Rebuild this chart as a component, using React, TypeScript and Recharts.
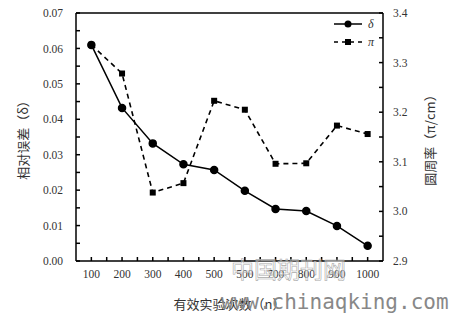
import { LineChart, Line, XAxis, YAxis } from 'recharts'

const trials = [100, 200, 300, 400, 500, 600, 700, 800, 900, 1000]
const xTickLabels = ['100', '200', '300', '400', '500', '500', '700', '800', '900', '1000']
const deltaValues = [0.061, 0.0432, 0.0332, 0.0273, 0.0257, 0.0198, 0.0147, 0.0141, 0.0099, 0.0043]
const piValues = [3.336, 3.278, 3.038, 3.057, 3.223, 3.205, 3.096, 3.097, 3.173, 3.156]

const xTicks = [100, 150, 200, 250, 300, 350, 400, 450, 500, 550, 600, 650, 700, 750, 800, 850, 900, 950, 1000]
const leftTicks = [0, 0.005, 0.01, 0.015, 0.02, 0.025, 0.03, 0.035, 0.04, 0.045, 0.05, 0.055, 0.06, 0.065, 0.07]
const rightTicks = [2.9, 2.95, 3.0, 3.05, 3.1, 3.15, 3.2, 3.25, 3.3, 3.35, 3.4]

const data = trials.map((n, i) => ({ n, delta: deltaValues[i], pi: piValues[i] }))

const tickStyle = { fontFamily: 'Liberation Serif', fontSize: 11.5, fill: '#333' }
const cjk = '"Noto Sans CJK SC", sans-serif'

const SquareDot = (props: any) => {
  const { cx, cy } = props
  if (cx == null || cy == null) return null
  return <rect x={cx - 3} y={cy - 3} width={6} height={6} fill="#000" />
}

// legend drawn by hand, a recharts Legend would eat into the plot height
const LegendBox = () => (
  <svg width={60} height={34} style={{ position: 'absolute', left: 332, top: 15 }}>
    <line x1={2} y1={9} x2={30} y2={9} stroke="#000" strokeWidth={1.5} />
    <circle cx={16} cy={9} r={3.5} fill="#000" />
    <text x={36} y={13} fontFamily="Liberation Serif" fontStyle="italic" fontSize={12} fill="#333">δ</text>
    <line x1={2} y1={27} x2={30} y2={27} stroke="#000" strokeWidth={1.5} strokeDasharray="4 4" />
    <rect x={13} y={24} width={6} height={6} fill="#000" />
    <text x={36} y={31} fontFamily="Liberation Serif" fontStyle="italic" fontSize={12} fill="#333">π</text>
  </svg>
)

export default function App() {
  return (
    <div style={{ position: 'absolute', left: 0, top: 0, width: 454, height: 324, background: '#fff' }}>
      <LineChart width={454} height={324} data={data} margin={{ top: 13, right: 0, bottom: 0, left: 0 }}>
        <XAxis
          dataKey="n"
          type="number"
          domain={[50, 1050]}
          ticks={xTicks}
          tickFormatter={(v: number) => {
            const i = trials.indexOf(v)
            return i >= 0 ? xTickLabels[i] : ''
          }}
          height={63}
          tickSize={-4}
          tickMargin={13}
          interval={0}
          stroke="#000"
          strokeWidth={1.5}
          tick={tickStyle}
          label={{ value: '有效实验次数（n）', position: 'insideBottom', offset: 15, style: { fontFamily: cjk, fontSize: 13, fill: '#333' } }}
        />
        <YAxis
          yAxisId="left"
          domain={[0, 0.07]}
          ticks={leftTicks}
          tickFormatter={(v: number) => (Math.round(v * 1000) % 10 === 0 ? v.toFixed(2) : '')}
          width={76}
          tickSize={-4}
          tickMargin={17}
          interval={0}
          stroke="#000"
          strokeWidth={1.5}
          tick={tickStyle}
          label={{ value: '相对误差（δ）', angle: -90, position: 'insideLeft', offset: 23, style: { textAnchor: 'middle', fontFamily: cjk, fontSize: 13, fill: '#333' } }}
        />
        <YAxis
          yAxisId="right"
          orientation="right"
          domain={[2.9, 3.4]}
          ticks={rightTicks}
          tickFormatter={(v: number) => (Math.round(v * 100) % 10 === 0 ? v.toFixed(1) : '')}
          width={71}
          tickSize={-4}
          tickMargin={14}
          interval={0}
          stroke="#000"
          strokeWidth={1.5}
          tick={tickStyle}
          label={{ value: '圆周率（π/cm）', angle: -90, position: 'insideRight', offset: 24, style: { textAnchor: 'middle', fontFamily: cjk, fontSize: 13, fill: '#333' } }}
        />
        <Line
          yAxisId="right"
          dataKey="pi"
          name="π"
          stroke="#000"
          strokeWidth={1.6}
          strokeDasharray="5 4"
          dot={<SquareDot />}
          isAnimationActive={false}
        />
        <Line
          yAxisId="left"
          dataKey="delta"
          name="δ"
          stroke="#000"
          strokeWidth={1.5}
          dot={{ r: 3.5, fill: '#000', stroke: '#000' }}
          isAnimationActive={false}
        />
        <line x1={76} y1={13} x2={383} y2={13} stroke="#000" strokeWidth={1.5} />
      </LineChart>
      <LegendBox />
      <div style={{ position: 'absolute', left: 231, top: 251, fontFamily: cjk, fontSize: 23, color: 'rgba(255,255,255,0.4)', WebkitTextStroke: '0.6px #aaa', pointerEvents: 'none' }}>中国期刊网</div>
      <div style={{ position: 'absolute', left: 221, top: 290, fontFamily: '"DejaVu Sans Mono", monospace', fontSize: 21, color: '#888', pointerEvents: 'none' }}>www.chinaqking.com</div>
    </div>
  )
}
